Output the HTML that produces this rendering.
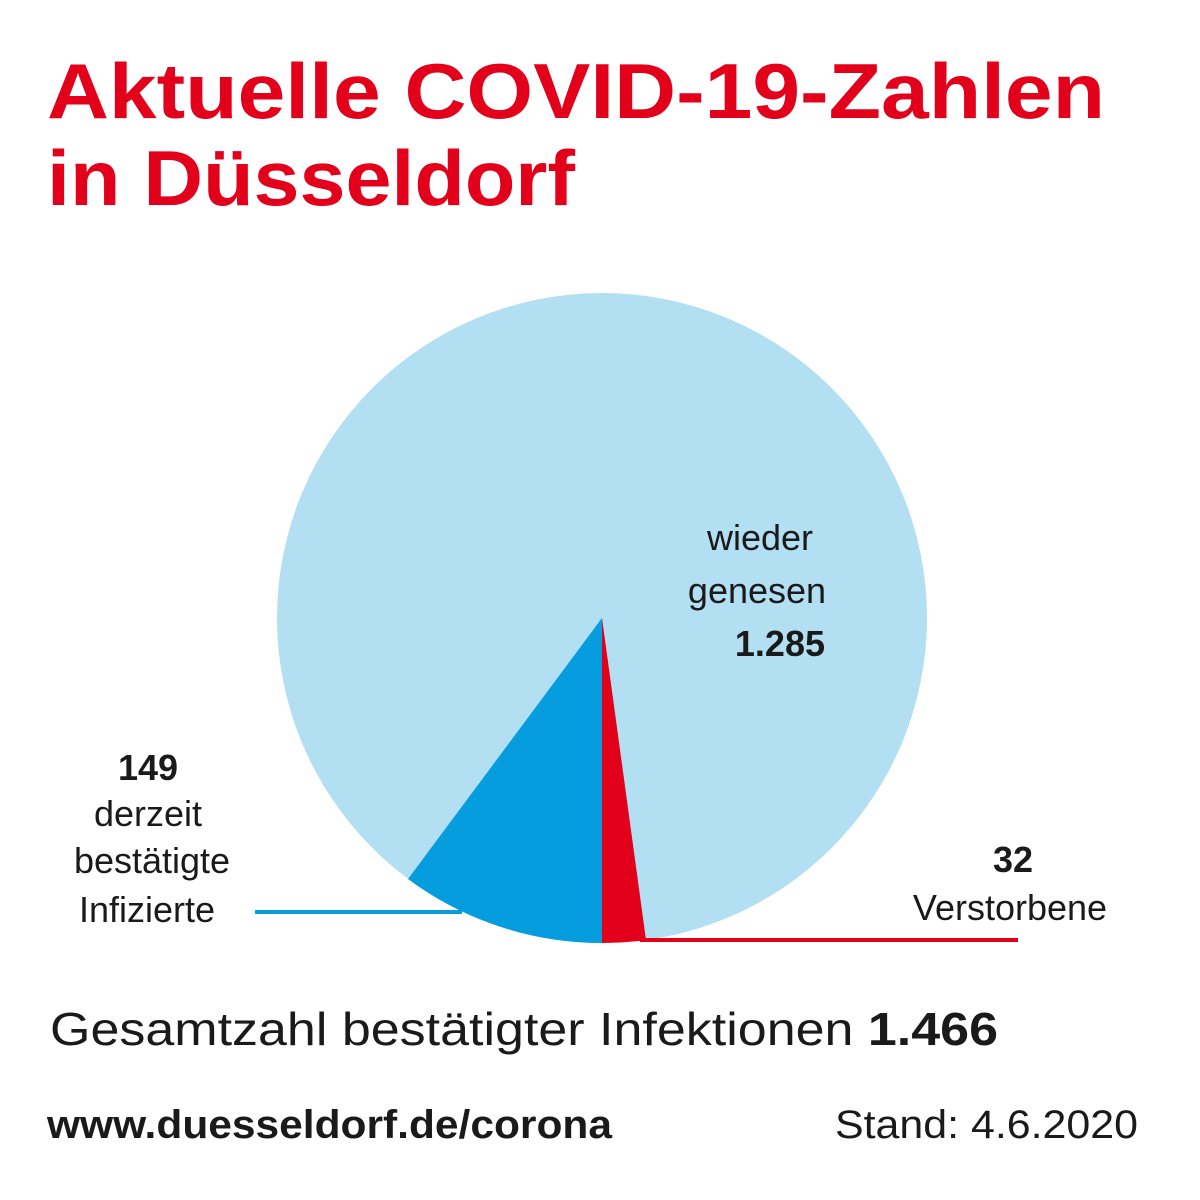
<!DOCTYPE html>
<html><head><meta charset="utf-8"><style>
html,body{margin:0;padding:0;background:#fff;}
svg{display:block;}
text{font-family:"Liberation Sans",sans-serif;}
</style></head><body>
<svg width="1200" height="1200" viewBox="0 0 1200 1200" xmlns="http://www.w3.org/2000/svg">
<rect width="1200" height="1200" fill="#fff"/>
<text x="47" y="118" font-size="78" font-weight="bold" fill="#e2001a" textLength="1058" lengthAdjust="spacingAndGlyphs">Aktuelle COVID-19-Zahlen</text>
<text x="47" y="205" font-size="78" font-weight="bold" fill="#e2001a" textLength="528" lengthAdjust="spacingAndGlyphs">in Düsseldorf</text>
<circle cx="602" cy="618" r="325" fill="#b3dff3"/>
<path d="M602,618 L602,943 A325,325 0 0 1 408,879 Z" fill="#069ddf"/>
<path d="M602,618 L646,940 A325,325 0 0 1 602,943 Z" fill="#e2001a"/>
<line x1="255" y1="912" x2="462" y2="912" stroke="#069ddf" stroke-width="4"/>
<line x1="640" y1="940" x2="1018" y2="940" stroke="#e2001a" stroke-width="4"/>
<g font-size="36" fill="#1a1a1a">
<text x="760" y="550" text-anchor="middle">wieder</text>
<text x="757" y="603" text-anchor="middle">genesen</text>
<text x="825" y="656" text-anchor="end" font-weight="bold">1.285</text>
<text x="148" y="780" text-anchor="middle" font-weight="bold">149</text>
<text x="148" y="826" text-anchor="middle">derzeit</text>
<text x="152" y="873" text-anchor="middle">bestätigte</text>
<text x="147" y="922" text-anchor="middle">Infizierte</text>
<text x="1033" y="872" text-anchor="end" font-weight="bold">32</text>
<text x="1010" y="920" text-anchor="middle">Verstorbene</text>
</g>
<text x="50" y="1045" font-size="46" fill="#1a1a1a" textLength="948" lengthAdjust="spacingAndGlyphs">Gesamtzahl bestätigter Infektionen <tspan font-weight="bold">1.466</tspan></text>
<text x="47" y="1138" font-size="40" font-weight="bold" fill="#1a1a1a" textLength="565" lengthAdjust="spacingAndGlyphs">www.duesseldorf.de/corona</text>
<text x="835" y="1138" font-size="40" fill="#1a1a1a" textLength="303" lengthAdjust="spacingAndGlyphs">Stand: 4.6.2020</text>
</svg>
</body></html>
